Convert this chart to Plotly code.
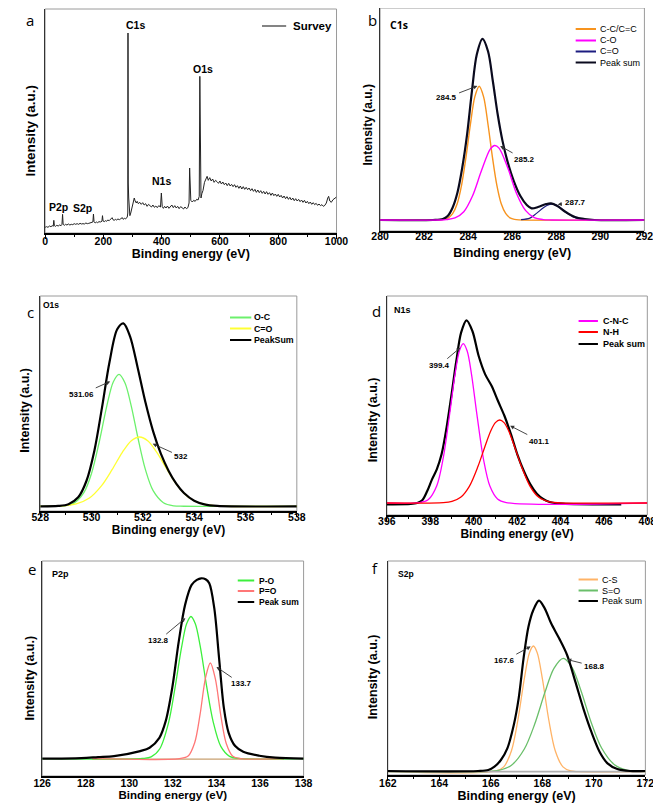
import plotly.graph_objects as go

W, H = 661, 808

# ---------------- data ----------------
# (a) survey
survey_ev = [0, 5, 10, 15, 20, 25, 28, 30, 32, 36,
             40, 45, 50, 55, 58, 60, 62, 66, 70, 75,
             80, 85, 90, 95, 100, 105, 110, 115, 120, 125,
             130, 135, 140, 145, 150, 155, 160, 164, 166, 168,
             172, 176, 180, 185, 190, 195, 197, 199, 203, 207,
             211, 215, 220, 225, 230, 233, 237, 241, 245, 250,
             255, 260, 265, 268, 272, 276, 280, 282, 283.8, 284.5,
             285.3, 287, 289, 291, 294, 297, 300, 303, 306, 309,
             313, 316, 320, 325, 330, 335, 340, 345, 350, 355,
             360, 365, 370, 375, 380, 385, 390, 396, 399, 402,
             406, 410, 415, 420, 425, 430, 435, 440, 445, 450,
             455, 460, 465, 470, 475, 480, 485, 490, 494, 496,
             498, 500, 505, 510, 515, 520, 525, 529, 531, 532.5,
             535, 538, 542, 547, 552, 556, 560, 565, 570, 575,
             580, 585, 590, 595, 600, 605, 610, 615, 620, 625,
             630, 635, 640, 645, 650, 655, 660, 665, 670, 675,
             680, 685, 690, 695, 700, 705, 710, 715, 720, 725,
             730, 735, 740, 745, 750, 755, 760, 765, 770, 775,
             780, 785, 790, 795, 800, 805, 810, 815, 820, 825,
             830, 835, 840, 845, 850, 855, 860, 865, 870, 875,
             880, 885, 890, 895, 900, 905, 910, 915, 920, 925,
             930, 935, 940, 945, 950, 955, 960, 965, 970, 973,
             977, 982, 988, 995, 1000]
survey_int = [17, 19, 17, 21, 19, 22, 20, 38, 22, 20,
              23, 21, 24, 22, 26, 56, 26, 23, 26, 24,
              27, 24, 26, 25, 28, 26, 28, 26, 29, 27,
              28, 27, 30, 28, 29, 30, 31, 33, 57, 34,
              30, 33, 31, 34, 33, 35, 52, 36, 34, 37,
              35, 39, 37, 41, 46, 40, 38, 41, 39, 42,
              40, 43, 46, 41, 44, 42, 45, 48, 60, 600,
              150, 105, 62, 52, 60, 72, 84, 98, 105, 96,
              90, 95, 88, 92, 86, 91, 84, 88, 80, 86,
              83, 78, 84, 77, 81, 76, 82, 78, 120, 79,
              74, 80, 75, 81, 74, 79, 84, 76, 82, 75,
              80, 73, 79, 76, 72, 78, 73, 76, 90, 195,
              110, 98, 93, 98, 95, 101, 99, 110, 470, 140,
              105, 118, 128, 152, 160, 170, 158, 166, 156, 162,
              152, 158, 154, 149, 156, 147, 153, 145, 150, 142,
              149, 141, 146, 139, 145, 137, 142, 134, 141, 132,
              139, 131, 137, 130, 135, 127, 133, 125, 131, 122,
              129, 121, 127, 119, 125, 117, 124, 116, 121, 113,
              120, 112, 117, 110, 116, 108, 113, 105, 111, 103,
              109, 101, 107, 99, 105, 97, 103, 96, 101, 94,
              99, 92, 98, 90, 95, 88, 93, 86, 91, 85,
              89, 83, 87, 82, 85, 80, 83, 90, 105, 110,
              96, 92, 100, 104, 108]
assert len(survey_ev) == len(survey_int)
survey_labels = ["C1s", "O1s", "N1s", "P2p", "S2p"]
survey_label_ev = [311, 543, 400, 45, 128]
survey_label_int = [625, 492, 155, 78, 74]

# (b) C1s
b_cc_x = [280, 282.7, 282.9, 283.1, 283.3, 283.5, 283.7, 283.9, 284.1, 284.3, 284.5, 284.7, 284.9, 285.1,
          285.3, 285.5, 285.7, 285.9, 286.1, 286.3, 292]
b_cc_y = [0, 0.4, 1.9, 6.5, 20, 49, 105, 189, 287, 370, 402, 370, 287, 189, 105, 49, 20, 6.5, 1.9, 0.4, 0]
b_co_x = [280, 282.8, 283.0, 283.4, 283.8, 284.2, 284.6, 285.0, 285.2, 285.4, 285.8, 286.2, 286.6, 287.0, 287.4, 287.8, 292]
b_co_y = [0, 0.2, 1.1, 6.2, 25, 73, 148, 213, 224, 216, 156, 79, 29, 7.3, 1.3, 0.2, 0]
b_cdo_x = [286.4, 286.8, 287.1, 287.4, 287.6, 287.8, 288.0, 288.2, 288.5, 288.9, 289.3]
b_cdo_y = [0.9, 5.6, 20, 36, 44.7, 48, 44.7, 36, 20, 5.6, 0.9]
b_sum_x = [280, 282.4, 282.85, 283.07, 283.29, 283.51, 283.73, 283.95, 284.17, 284.39, 284.65, 284.9, 285.12,
           285.34, 285.56, 285.78, 286.07, 286.37, 286.66, 286.88, 287.17, 287.54, 287.76, 288.05, 288.41,
           288.85, 289.29, 289.73, 292]
b_sum_y = [0, 0, 3, 12, 37, 82, 157, 257, 387, 497, 544, 507, 417, 317, 237, 177, 117, 72, 45, 35, 39, 48,
           50, 42, 25, 9, 3, 0, 0]
b_names = ["C-C/C=C", "C-O", "C=O", "Peak sum"]
b_labels = ["284.5", "285.2", "287.7"]

# (c) O1s
c_oc_x = [528, 528.9, 529.3, 529.7, 530.0, 530.3, 530.6, 530.85, 531.07, 531.3, 531.55, 531.8, 532.1,
          532.4, 532.8, 533.2, 533.6, 538]
c_oc_y = [0, 1.3, 9.0, 41, 99, 193, 303, 374, 396, 371, 300, 208, 110, 47, 11, 1.6, 0.2, 0]
c_cdo_x = [528, 528.9, 529.4, 529.9, 530.4, 530.8, 531.2, 531.55, 531.87, 532.2, 532.55, 532.9, 533.3,
           533.8, 534.3, 534.8, 538]
c_cdo_y = [0, 1.6, 7.1, 24, 63, 110, 162, 197, 208, 196, 161, 116, 67, 26, 7.9, 1.8, 0]
c_sum_x = [528, 528.7, 529.1, 529.48, 529.8, 530.11, 530.4, 530.7, 531.0, 531.24, 531.5, 531.8, 532.1,
           532.4, 532.7, 533.0, 533.3, 533.6, 534.0, 534.4, 534.9, 538]
c_sum_y = [0, 1.2, 6.4, 27, 76, 167, 293, 433, 531, 549, 510, 415, 312, 225, 158, 107, 68, 40, 17, 6, 1.3, 0]
c_names = ["O-C", "C=O", "PeakSum"]
c_labels = ["531.06", "532"]

# (d) N1s
d_cnc_x = [396, 397.5, 397.9, 398.3, 398.6, 398.9, 399.15, 399.35, 399.52, 399.7, 399.9, 400.15, 400.45,
           400.75, 401.1, 401.5, 408]
d_cnc_y = [4, 5.1, 13.6, 56, 140, 274, 394, 462, 482, 460, 390, 269, 136, 54, 16, 5.4, 4]
d_nh_x = [396, 398.6, 399.0, 399.4, 399.8, 400.2, 400.5, 400.8, 401.0, 401.2, 401.4, 401.6, 401.9, 402.2,
          402.6, 403.0, 403.5, 404.0, 408]
d_nh_y = [4, 5.0, 8.7, 21, 54, 114, 170, 222, 245, 253, 245, 222, 170, 114, 54, 21, 7.2, 4.4, 4]
d_sum_x = [396, 397.1, 397.4, 397.63, 397.86, 398.08, 398.3, 398.52, 398.75, 398.97, 399.2, 399.42, 399.67,
           399.94, 400.23, 400.53, 400.83, 401.12, 401.42, 401.72, 402.01, 402.31, 402.61, 402.91, 403.2,
           403.5, 404.1, 406.8]
d_sum_y = [0, 1, 4, 12, 40, 75, 105, 150, 230, 325, 430, 515, 552, 520, 445, 390, 355, 310, 265, 210, 150,
           100, 60, 32, 16, 7, 2, 0]
d_names = ["C-N-C", "N-H", "Peak sum"]
d_labels = ["399.4", "401.1"]

# (e) P2p
e_po_x = [126, 130.6, 131.0, 131.4, 131.8, 132.1, 132.4, 132.63, 132.83, 133.03, 133.25, 133.55, 133.85,
          134.2, 134.6, 135.0, 138]
e_po_y = [0, 0.7, 5.5, 30, 108, 214, 336, 406, 428, 406, 340, 218, 111, 37, 7.2, 0.9, 0]
e_pdo_x = [128.3, 132.3, 132.7, 133.0, 133.25, 133.5, 133.72, 133.95, 134.2, 134.45, 134.75, 135.1, 137.1]
e_pdo_y = [0, 0.3, 7.9, 48, 134, 244, 288, 240, 130, 46, 7.3, 0.4, 0]
e_sum_x = [126, 127.8, 128.56, 129.3, 130.5, 130.93, 131.38, 131.67, 131.97, 132.27, 132.56, 132.86, 133.1,
           133.3, 133.5, 133.67, 133.9, 134.12, 134.34, 134.56, 134.86, 135.23, 135.97, 136.7, 138]
e_sum_y = [0, 2, 5, 8, 23, 33, 63, 113, 213, 353, 463, 523, 538, 543, 540, 528, 453, 303, 153, 78, 38, 21,
           9, 3, 0]
e_base_x = [128.3, 137.1]
e_base_y = [-1, -1]
e_names = ["P-O", "P=O", "Peak sum"]
e_labels = ["132.8", "133.7"]

# (f) S2p
f_cs_x = [162, 166.2, 166.5, 166.8, 167.05, 167.3, 167.5, 167.65, 167.8, 168.0, 168.25, 168.5, 168.8,
          169.1, 169.4, 172]
f_cs_y = [0, 2.1, 14.4, 63, 155, 279, 357, 377, 357, 279, 155, 63, 14.4, 2.1, 0.2, 0]
f_so_x = [162, 165.8, 166.3, 166.8, 167.3, 167.7, 168.1, 168.45, 168.81, 169.15, 169.5, 169.9, 170.3,
          170.8, 171.3, 171.8, 172]
f_so_y = [0, 0.55, 3.9, 19.4, 68, 142, 238, 310, 340, 313, 243, 147, 71, 21, 4.2, 0.6, 0]
f_sum_x = [162, 165.5, 165.9, 166.14, 166.39, 166.64, 166.89, 167.08, 167.27, 167.46, 167.65, 167.87,
           168.09, 168.34, 168.65, 168.96, 169.28, 169.59, 169.9, 170.22, 170.53, 170.91, 171.41, 172]
f_sum_y = [2, 2, 5, 15, 35, 70, 140, 220, 340, 435, 485, 513, 490, 445, 400, 350, 270, 190, 120, 60, 25, 8,
           2, 2]
f_base_x = [162, 172]
f_base_y = [0, 0]
f_names = ["C-S", "S=O", "Peak sum"]
f_labels = ["167.6", "168.8"]

# ---------------- styling ----------------
ARIAL = "Liberation Sans, Arial, sans-serif"
CAL = "Open Sans, Noto Sans, sans-serif"
FRAME = "#9a9a9a"

fig = go.Figure()


def refs(i):
    s = "" if i == 1 else str(i)
    return "x" + s, "y" + s, "xaxis" + s, "yaxis" + s


def line(i, x, y, color, width, shape="spline", name=None):
    xr, yr, _, _ = refs(i)
    fig.add_trace(go.Scatter(x=x, y=y, mode="lines", name=name, showlegend=False,
                             line=dict(color=color, width=width, shape=shape, smoothing=0.9),
                             xaxis=xr, yaxis=yr, hoverinfo="skip"))


# panel geometry in pixels: (left, right, top, bottom); ticks: show tick marks; lso: label offset; tso: title offset
panels = {
    1: dict(px=(29, 330, 1, 225), xr=(0, 1000), yr=(0, 672), dt=200, mdt=100, ttl=12.5, ticks=True, lso=-6, tso=2),
    2: dict(px=(375, 648, 0, 223), xr=(280, 292), yr=(-33, 637), dt=2, mdt=1, ttl=12.5, ticks=False, lso=-5, tso=7),
    3: dict(px=(24, 289, 288, 503), xr=(528, 538), yr=(-14, 631), dt=2, mdt=1, ttl=12, ticks=True, lso=-8, tso=1),
    4: dict(px=(382, 651, 288, 507), xr=(396, 408), yr=(-32, 625), dt=2, mdt=1, ttl=12, ticks=True, lso=-8, tso=1),
    5: dict(px=(26, 296, 553, 768), xr=(126, 138), yr=(-52, 595), dt=2, mdt=1, ttl=11.5, ticks=False, lso=-3, tso=3),
    6: dict(px=(383, 649, 553, 767), xr=(162, 172), yr=(-10, 632), dt=2, mdt=1, ttl=12.5, ticks=True, lso=-6, tso=1),
}

layout = dict(width=W, height=H, margin=dict(l=0, r=0, t=0, b=0), autosize=False,
              paper_bgcolor="white", plot_bgcolor="white", showlegend=False)
shapes = []
annotations = []

for i, p in panels.items():
    l, r, t, b = p["px"]
    xr, yr, xa, ya = refs(i)
    tk = "outside" if p["ticks"] else ""
    layout[xa] = dict(domain=[l / W, r / W], range=list(p["xr"]), anchor=yr,
                      showline=True, linecolor="black", linewidth=1.5, mirror=False,
                      ticks=tk, ticklen=4, tickwidth=1.2, tickcolor="black",
                      tickmode="linear", tick0=p["xr"][0], dtick=p["dt"], ticklabelstandoff=p["lso"],
                      minor=dict(ticks=tk, ticklen=2.5, tickwidth=1, tickcolor="black", dtick=p["mdt"],
                                 showgrid=False),
                      tickfont=dict(family=ARIAL, size=10.5, color="black", weight="bold"),
                      showgrid=False, zeroline=False, fixedrange=True,
                      title=dict(text="Binding energy (eV)", standoff=p["tso"],
                                 font=dict(family=ARIAL, size=p["ttl"], color="black", weight="bold")))
    layout[ya] = dict(domain=[1 - b / H, 1 - t / H], range=list(p["yr"]), anchor=xr,
                      showline=True, linecolor="#333", linewidth=1.2, ticks="", showticklabels=False,
                      showgrid=False, zeroline=False, fixedrange=True)
    shapes.append(dict(type="rect", xref=xr + " domain", yref=yr + " domain", x0=0, x1=1, y0=0, y1=1,
                       line=dict(color=FRAME, width=1), fillcolor="rgba(0,0,0,0)", layer="below"))

# y-axis titles (placed as annotations, as in the figure they sit a bit below centre)
ytitles = [(13, 123, 13.5), (363, 117, 12), (8, 402, 12.5), (368, 412, 12.5), (13, 670, 12.5), (368, 669, 12.5)]
for (x, y, s) in ytitles:
    annotations.append(dict(text="Intensity (a.u.)", xref="paper", yref="paper", x=x / W, y=1 - y / H,
                            xanchor="center", yanchor="middle", textangle=-90, showarrow=False,
                            font=dict(family=ARIAL, size=s, color="black", weight="bold")))

# panel letters
for (txt, x, y) in [("a", 13, 12), ("b", 367, 12), ("c", 14, 304), ("d", 371, 303), ("e", 16, 561), ("f", 370, 560)]:
    annotations.append(dict(text=txt, xref="paper", yref="paper", x=x / W, y=1 - y / H, xanchor="center",
                            yanchor="middle", showarrow=False, font=dict(family=CAL, size=15, color="black")))

# core-level labels
for (txt, x, y, s, fam, wt) in [("C1s", 395, 17, 10.5, CAL, "bold"), ("O1s", 35, 297, 8.5, ARIAL, "bold"),
                                ("N1s", 398, 302, 9, ARIAL, "bold"), ("P2p", 45, 566, 9, ARIAL, "bold"),
                                ("S2p", 402, 566, 8.5, ARIAL, "bold")]:
    annotations.append(dict(text=txt, xref="paper", yref="paper", x=x / W, y=1 - y / H, xanchor="center",
                            yanchor="middle", showarrow=False, font=dict(family=fam, size=s, color="black", weight=wt)))

# ---------------- traces ----------------
# (a)
line(1, survey_ev, survey_int, "#222222", 1, shape="linear", name="Survey")
for txt, xv, yv in zip(survey_labels, survey_label_ev, survey_label_int):
    annotations.append(dict(text=txt, xref="x", yref="y", x=xv, y=yv, showarrow=False, xanchor="center",
                            yanchor="middle", font=dict(family=ARIAL, size=10.5, color="black", weight="bold")))

# (b)
cb = ["#f7931e", "#ff00ff", "#1c1c80", "#0a0a1e"]
line(2, b_cc_x, b_cc_y, cb[0], 1.4, name=b_names[0])
line(2, b_cdo_x, b_cdo_y, cb[2], 1.2, name=b_names[2])
line(2, b_sum_x, b_sum_y, cb[3], 2.2, name=b_names[3])
line(2, b_co_x, b_co_y, cb[1], 1.4, name=b_names[1])

# (c)
cc = ["#6cf06c", "#ffff33", "#000000"]
line(3, c_oc_x, c_oc_y, cc[0], 1.3, name=c_names[0])
line(3, c_cdo_x, c_cdo_y, cc[1], 1.3, name=c_names[1])
line(3, c_sum_x, c_sum_y, cc[2], 2.2, name=c_names[2])

# (d)
cd = ["#ff00ff", "#ff0000", "#000000"]
line(4, d_sum_x, d_sum_y, cd[2], 2.2, name=d_names[2])
line(4, d_cnc_x, d_cnc_y, cd[0], 1.3, name=d_names[0])
line(4, d_nh_x, d_nh_y, cd[1], 1.3, name=d_names[1])

# (e)
ce = ["#3cef3c", "#ff7777", "#000000"]
line(5, e_base_x, e_base_y, "#c8a070", 1.2, shape="linear")
line(5, e_po_x, e_po_y, ce[0], 1.3, name=e_names[0])
line(5, e_pdo_x, e_pdo_y, ce[1], 1.3, name=e_names[1])
line(5, e_sum_x, e_sum_y, ce[2], 2.2, name=e_names[2])

# (f)
cf = ["#ffb366", "#6abf6a", "#000000"]
line(6, f_cs_x, f_cs_y, cf[0], 1.3, name=f_names[0])
line(6, f_so_x, f_so_y, cf[1], 1.3, name=f_names[1])
line(6, f_base_x, f_base_y, "#b0b0b0", 1.6, shape="linear")
line(6, f_sum_x, f_sum_y, cf[2], 2.2, name=f_names[2])

# ---------------- peak arrows ----------------
arrows = [
    (2, b_labels[0], 283.0, 367, 284.46, 404),
    (2, b_labels[1], 286.54, 182, 285.41, 224),
    (2, b_labels[2], 288.85, 54, 288.02, 46),
    (3, c_labels[0], 529.61, 336, 530.76, 376),
    (3, c_labels[1], 533.5, 149, 532.35, 189),
    (4, d_labels[0], 398.42, 417, 399.42, 472),
    (4, d_labels[1], 403.05, 190, 401.64, 237),
    (5, e_labels[0], 131.33, 355, 132.61, 425),
    (5, e_labels[1], 135.14, 225, 133.96, 278),
    (6, f_labels[0], 166.52, 333, 167.58, 377),
    (6, f_labels[1], 170.03, 316, 168.93, 337),
]
for (i, txt, tx, ty, hx, hy) in arrows:
    xr, yr, _, _ = refs(i)
    annotations.append(dict(text=txt, xref=xr, yref=yr, x=hx, y=hy, axref=xr, ayref=yr, ax=tx, ay=ty,
                            showarrow=True, arrowhead=2, arrowsize=0.9, arrowwidth=0.9, arrowcolor="#333333",
                            standoff=1, startstandoff=1,
                            font=dict(family=ARIAL, size=8, color="black", weight="bold")))

# ---------------- legends (drawn as line samples + text) ----------------
legends = [
    (["Survey"], ["#333333"], (253, 278), 283, [18], 11.5, "bold", 1.2),
    (b_names, cb, (577, 598), 600, [21, 32.5, 43.5, 54.5], 9, "normal", 2),
    (c_names, cc, (220, 242), 243, [309.5, 320.5, 332], 8.8, "bold", 2),
    (d_names, cd, (580, 600), 603, [313, 324, 336], 9, "bold", 2),
    (e_names, ce, (228, 245), 248, [572.5, 583, 594], 8.5, "bold", 2),
    (f_names, cf, (580, 600), 602, [571.5, 582.5, 593], 9, "normal", 2),
]
for names, cols, (x0, x1), tx, ys, sz, wt, lw in legends:
    for nm, col, yy in zip(names, cols, ys):
        shapes.append(dict(type="line", xref="paper", yref="paper", x0=x0 / W, x1=x1 / W,
                           y0=1 - yy / H, y1=1 - yy / H, line=dict(color=col, width=lw)))
        annotations.append(dict(text=nm, xref="paper", yref="paper", x=tx / W, y=1 - yy / H,
                                xanchor="left", yanchor="middle", showarrow=False,
                                font=dict(family=ARIAL, size=sz, color="black", weight=wt)))

layout["shapes"] = shapes
layout["annotations"] = annotations
fig.update_layout(**layout)
fig.write_html("out.html")
